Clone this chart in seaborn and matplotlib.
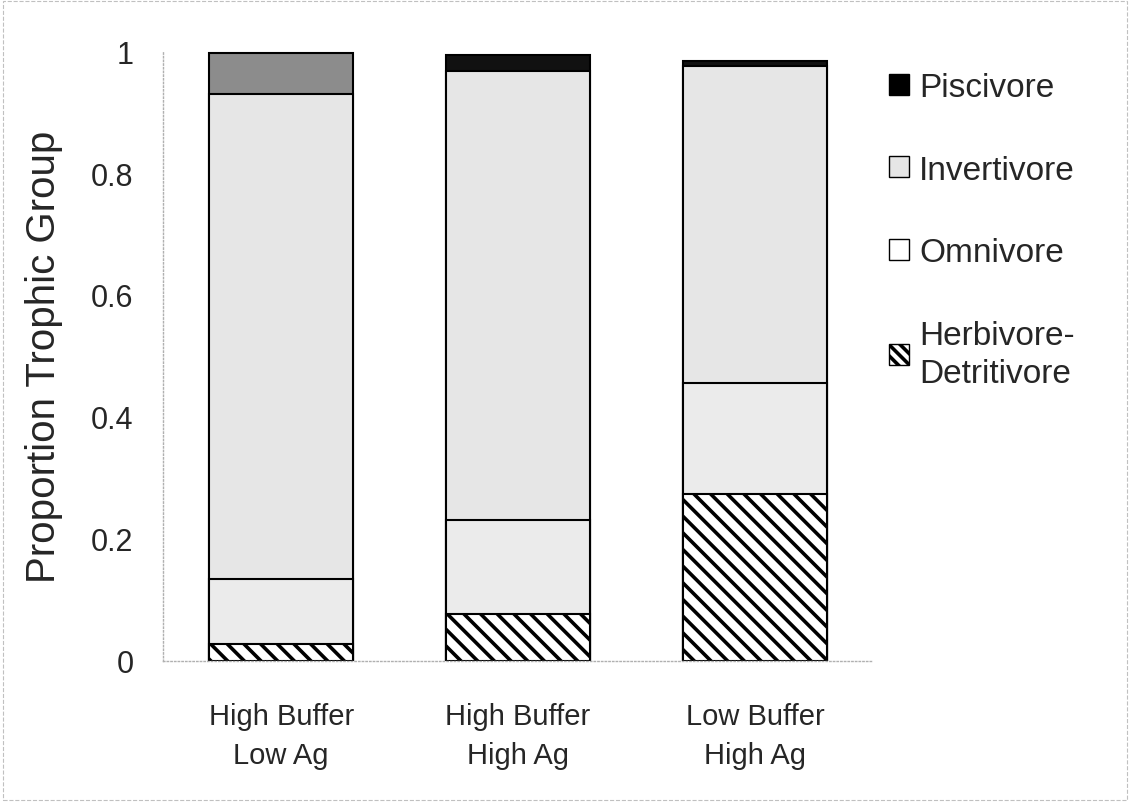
import numpy as np
import matplotlib
matplotlib.use("Agg")
import matplotlib.pyplot as plt
from matplotlib.patches import Patch
import seaborn as sns

# values (proportion of each trophic group)
sites = ["High Buffer\nLow Ag", "High Buffer\nHigh Ag", "Low Buffer\nHigh Ag"]
herbivore = [0.028, 0.077, 0.274]
omnivore = [0.106, 0.153, 0.181]
invertivore = [0.796, 0.737, 0.520]
piscivore = [0.067, 0.026, 0.009]

groups = ["Piscivore", "Invertivore", "Omnivore", "Herbivore-\nDetritivore"]

sns.set_theme(style="white")
plt.rcParams["font.family"] = ["Liberation Sans", "DejaVu Sans"]
plt.rcParams["hatch.linewidth"] = 2.6

fig = plt.figure(figsize=(11.3, 8.03), dpi=100)
ax = fig.add_axes([0.144, 0.176, 0.629, 0.759])

# cumulative tops, drawn from the tallest layer down so that they stack
layers = np.array([herbivore, omnivore, invertivore, piscivore])
tops = np.cumsum(layers, axis=0)

edge = dict(edgecolor="black", linewidth=1.5, width=0.61, saturation=1)
sns.barplot(x=sites, y=tops[3], hue=sites, palette=["#8c8c8c", "#111111", "#111111"],
            legend=False, ax=ax, **edge)
sns.barplot(x=sites, y=tops[2], color="#e6e6e6", ax=ax, **edge)
sns.barplot(x=sites, y=tops[1], color="#ebebeb", ax=ax, **edge)
sns.barplot(x=sites, y=tops[0], color="white", hatch="\\\\", ax=ax, **edge)

ax.set_xlim(-0.5, 2.5)
ax.set_ylim(0, 1)
ax.set_yticks([0, 0.2, 0.4, 0.6, 0.8, 1])
ax.set_yticklabels(["0", "0.2", "0.4", "0.6", "0.8", "1"])
ax.tick_params(axis="y", labelsize=22, length=3, color="#c8c8c8", pad=18)
ax.tick_params(axis="x", labelsize=21, length=0, pad=30)
for lbl in ax.get_xticklabels():
    lbl.set_linespacing(1.5)
ax.set_ylabel("Proportion Trophic Group", fontsize=29, labelpad=20)
ax.set_xlabel("")

for side in ["top", "right"]:
    ax.spines[side].set_visible(False)
for side in ["left", "bottom"]:
    ax.spines[side].set_color("#b0b0b0")
    ax.spines[side].set_linestyle(":")
    ax.spines[side].set_linewidth(1)

handles = [
    Patch(facecolor="black", edgecolor="black", linewidth=1),
    Patch(facecolor="#e6e6e6", edgecolor="black", linewidth=1),
    Patch(facecolor="white", edgecolor="black", linewidth=1),
    Patch(facecolor="white", edgecolor="black", linewidth=1, hatch="\\\\\\"),
]
leg = fig.legend(handles, groups, loc="upper left", bbox_to_anchor=(0.772, 0.93),
                 fontsize=24, frameon=False, handlelength=0.6, handleheight=0.6,
                 handletextpad=0.3, labelspacing=1.55, borderpad=0)
for t in leg.get_texts():
    t.set_linespacing(1.3)

# faint border of the original chart area
fig.patches.append(plt.Rectangle((0.003, 0.003), 0.994, 0.994, transform=fig.transFigure,
                                 fill=False, edgecolor="#c0c0c0", linestyle="--",
                                 linewidth=0.8))

fig.savefig("out.png", dpi=100)
